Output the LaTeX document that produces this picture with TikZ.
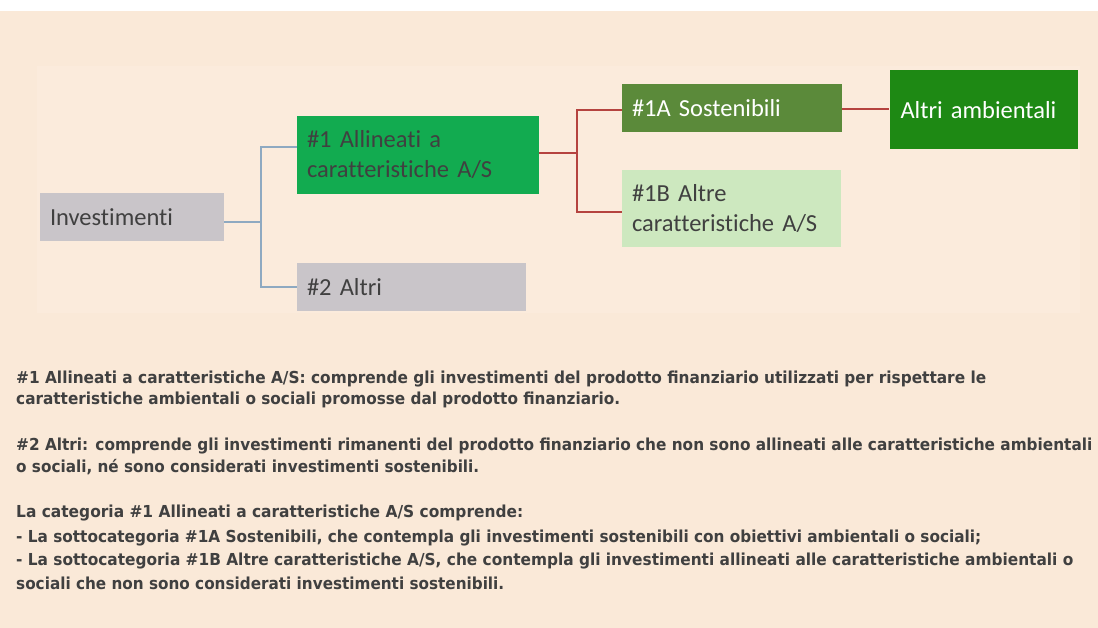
\documentclass[tikz,border=0pt]{standalone}
\usepackage{fontspec}
\usepackage{graphicx}
\newfontfamily\boxfont[Ligatures={NoCommon}]{Carlito}
\newfontfamily\notefont{DejaVu Sans}
\definecolor{bgc}{HTML}{FAE9D8}
\definecolor{innerc}{HTML}{FBEBDC}
\definecolor{grayc}{HTML}{C9C5C9}
\definecolor{greenc}{HTML}{12AB50}
\definecolor{olivec}{HTML}{5B8A3A}
\definecolor{lightc}{HTML}{CDE8BF}
\definecolor{darkgc}{HTML}{1E8914}
\definecolor{txtc}{HTML}{404040}
\definecolor{bluec}{HTML}{8EA9C1}
\definecolor{redc}{HTML}{B5433F}
\tikzset{
  catbox/.style={rectangle, inner xsep=10pt, inner ysep=0pt, align=left,
    font=\boxfont\fontsize{24.5}{30}\selectfont, text=txtc},
  bluelink/.style={draw=bluec, line width=1.5pt},
  redlink/.style={draw=redc, line width=2pt},
  noteline/.style={inner sep=0pt, anchor=base west, text=txtc,
    font=\notefont\bfseries\fontsize{16.5}{19}\selectfont},
}
\newcommand\fitline[2]{\resizebox{#1pt}{\height}{#2}}
\begin{document}
\begin{tikzpicture}[x=1pt,y=-1pt]
\useasboundingbox (0,0) rectangle (1098,628);
\fill[white] (0,0) rectangle (1098,628);
\fill[bgc] (0,11) rectangle (1098,628);
\fill[innerc] (37,66) rectangle (1080,313);

% boxes
\node[catbox, fill=grayc, minimum width=184pt, minimum height=48pt, text width=164pt] (inv) at (132,217) {Investimenti};
\node[catbox, fill=greenc, minimum width=242pt, minimum height=78pt, text width=222pt] (a1) at (418,155) {\#1 Allineati a\\caratteristiche A/S};
\node[catbox, fill=grayc, minimum width=229pt, minimum height=48pt, text width=209pt] (a2) at (411.5,287) {\#2 Altri};
\node[catbox, fill=olivec, text=white, minimum width=220pt, minimum height=48pt, text width=200pt] (s1a) at (732,108) {\#1A Sostenibili};
\node[catbox, fill=lightc, minimum width=219pt, minimum height=77pt, text width=199pt] (s1b) at (731.5,208.5) {\#1B Altre\\caratteristiche A/S};
\node[catbox, fill=darkgc, text=white, minimum width=187pt, minimum height=79pt, text width=166pt, inner xsep=11pt] (amb) at (983.5,110) {Altri ambientali};

% connectors
\coordinate (j1) at (261,222);
\coordinate (j2) at (577,153);
\draw[bluelink] ([yshift=-5pt]inv.east) -- (j1);
\draw[bluelink] ([yshift=8pt]a1.west) -| (j1) |- (a2.west);
\draw[redlink] ([yshift=2pt]a1.east) -- (j2);
\draw[redlink] ([yshift=-2pt]s1a.west) -| (j2) |- ([yshift=-3.5pt]s1b.west);
\draw[redlink] ([yshift=-1pt]s1a.east) -- ([yshift=1pt]amb.west);

% notes
\node[noteline] (n1) at (16,383) {\fitline{970}{\#1 Allineati a caratteristiche A/S: comprende gli investimenti del prodotto finanziario utilizzati per rispettare le}};
\node[noteline] (n2) at (16,404) {\fitline{604}{caratteristiche ambientali o sociali promosse dal prodotto finanziario.}};
\node[noteline] (n3) at (16,450) {\fitline{1076}{\#2 Altri: comprende gli investimenti rimanenti del prodotto finanziario che non sono allineati alle caratteristiche ambientali}};
\node[noteline] (n4) at (16,472) {\fitline{463}{o sociali, né sono considerati investimenti sostenibili.}};
\node[noteline] (n5) at (16,517) {\fitline{507}{La categoria \#1 Allineati a caratteristiche A/S comprende:}};
\node[noteline] (n6) at (16,542) {\fitline{965}{- La sottocategoria \#1A Sostenibili, che contempla gli investimenti sostenibili con obiettivi ambientali o sociali;}};
\node[noteline] (n7) at (16,565) {\fitline{1057}{- La sottocategoria \#1B Altre caratteristiche A/S, che contempla gli investimenti allineati alle caratteristiche ambientali o}};
\node[noteline] (n8) at (16,589) {\fitline{488}{sociali che non sono considerati investimenti sostenibili.}};
\end{tikzpicture}
\end{document}
